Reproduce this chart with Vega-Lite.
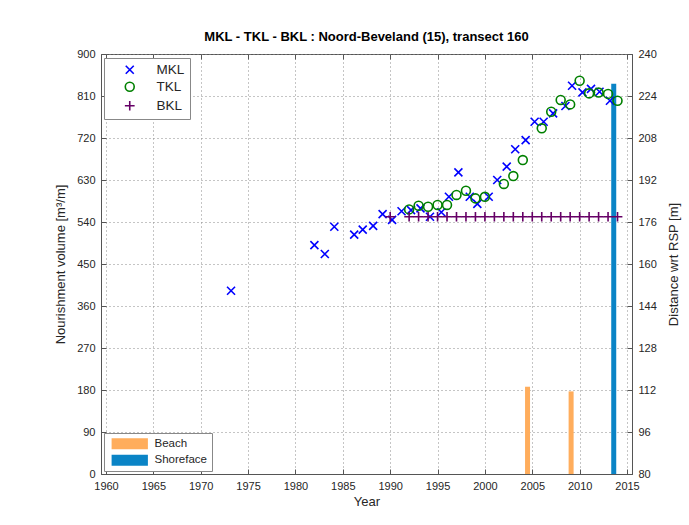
{
  "$schema": "https://vega.github.io/schema/vega-lite/v6.json",
  "width": 531,
  "height": 420,
  "autosize": {"type": "none"},
  "padding": {"left": 101, "top": 54, "right": 57, "bottom": 51},
  "background": "white",
  "title": {"text": "MKL - TKL - BKL : Noord-Beveland (15), transect 160", "fontSize": 13, "fontWeight": "bold", "font": "Liberation Sans", "color": "#000000", "offset": 4, "anchor": "middle"},
  "config": {
    "font": "Liberation Sans",
    "view": {"stroke": "#555555", "strokeWidth": 1},
    "axis": {
      "labelFont": "Liberation Sans", "labelFontSize": 11, "labelColor": "#262626", "labelFlush": false,
      "titleFont": "Liberation Sans", "titleFontSize": 13, "titleFontWeight": "normal", "titleColor": "#262626",
      "domainColor": "#555555", "tickColor": "#555555", "tickSize": -5, "labelPadding": 11,
      "gridColor": "#8a8a8a", "gridDash": [1, 3], "gridOpacity": 1, "gridWidth": 1
    },
    "legend": {"strokeColor": "#888888", "fillColor": "#ffffff", "labelFont": "Liberation Sans", "labelColor": "#262626"}
  },
  "layer": [
    {
      "data": {"values": [
        {"year": 2004.5, "volume": 187, "type": "Beach"},
        {"year": 2009.1, "volume": 177, "type": "Beach"},
        {"year": 2013.6, "volume": 836, "type": "Shoreface"}
      ]},
      "mark": {"type": "bar", "size": 5, "orient": "vertical"},
      "encoding": {
        "x": {"field": "year", "type": "quantitative",
          "scale": {"domain": [1960, 2015], "nice": false, "zero": false},
          "axis": {"orient": "bottom", "values": [1960, 1965, 1970, 1975, 1980, 1985, 1990, 1995, 2000, 2005, 2010, 2015], "format": "d", "title": "Year", "grid": true, "titlePadding": 4}},
        "y": {"field": "volume", "type": "quantitative",
          "scale": {"domain": [0, 900], "nice": false},
          "axis": {"values": [0, 90, 180, 270, 360, 450, 540, 630, 720, 810, 900], "title": "Nourishment volume [m³/m]", "grid": true, "titlePadding": 9}},
        "color": {"field": "type", "type": "nominal",
          "scale": {"domain": ["Beach", "Shoreface"], "range": ["#ffad5c", "#0a84c6"]},
          "legend": {"title": null, "orient": "none", "legendX": 3, "legendY": 379, "padding": 5, "symbolType": "M-3.3,-1L3.3,-1L3.3,1L-3.3,1Z", "symbolSize": 121, "symbolOffset": 15, "labelOffset": 19, "labelFontSize": 11.5, "rowPadding": 3.5, "symbolStrokeWidth": 0}}
      }
    },
    {
      "data": {"values": [
        {"year": 1966.1, "dist": 85.3, "series": "MKL"},
        {"year": 1967.3, "dist": 86.0, "series": "MKL"},
        {"year": 1968.2, "dist": 85.6, "series": "MKL"},
        {"year": 1973.2, "dist": 149.8, "series": "MKL"},
        {"year": 1982.0, "dist": 167.2, "series": "MKL"},
        {"year": 1983.1, "dist": 163.8, "series": "MKL"},
        {"year": 1984.1, "dist": 174.2, "series": "MKL"},
        {"year": 1986.2, "dist": 171.2, "series": "MKL"},
        {"year": 1987.1, "dist": 173.1, "series": "MKL"},
        {"year": 1988.2, "dist": 174.5, "series": "MKL"},
        {"year": 1989.2, "dist": 179.0, "series": "MKL"},
        {"year": 1990.2, "dist": 176.8, "series": "MKL"},
        {"year": 1991.2, "dist": 180.1, "series": "MKL"},
        {"year": 1992.2, "dist": 180.5, "series": "MKL"},
        {"year": 1993.2, "dist": 181.2, "series": "MKL"},
        {"year": 1994.2, "dist": 178.0, "series": "MKL"},
        {"year": 1995.4, "dist": 179.7, "series": "MKL"},
        {"year": 1996.2, "dist": 185.6, "series": "MKL"},
        {"year": 1997.2, "dist": 194.9, "series": "MKL"},
        {"year": 1998.4, "dist": 185.6, "series": "MKL"},
        {"year": 1999.2, "dist": 182.9, "series": "MKL"},
        {"year": 2000.4, "dist": 185.6, "series": "MKL"},
        {"year": 2001.3, "dist": 192.0, "series": "MKL"},
        {"year": 2002.3, "dist": 197.1, "series": "MKL"},
        {"year": 2003.2, "dist": 203.7, "series": "MKL"},
        {"year": 2004.3, "dist": 207.2, "series": "MKL"},
        {"year": 2005.25, "dist": 214.2, "series": "MKL"},
        {"year": 2006.2, "dist": 214.2, "series": "MKL"},
        {"year": 2007.2, "dist": 217.4, "series": "MKL"},
        {"year": 2008.5, "dist": 220.2, "series": "MKL"},
        {"year": 2009.2, "dist": 227.9, "series": "MKL"},
        {"year": 2010.3, "dist": 225.4, "series": "MKL"},
        {"year": 2011.2, "dist": 226.7, "series": "MKL"},
        {"year": 2012.1, "dist": 225.6, "series": "MKL"},
        {"year": 2013.2, "dist": 222.2, "series": "MKL"},
        {"year": 1992, "dist": 180.8, "series": "TKL"},
        {"year": 1993, "dist": 182.2, "series": "TKL"},
        {"year": 1994, "dist": 181.8, "series": "TKL"},
        {"year": 1995, "dist": 182.5, "series": "TKL"},
        {"year": 1996, "dist": 182.5, "series": "TKL"},
        {"year": 1997, "dist": 186.3, "series": "TKL"},
        {"year": 1998, "dist": 187.9, "series": "TKL"},
        {"year": 1999, "dist": 185.0, "series": "TKL"},
        {"year": 2000, "dist": 185.6, "series": "TKL"},
        {"year": 2002, "dist": 190.5, "series": "TKL"},
        {"year": 2003, "dist": 193.5, "series": "TKL"},
        {"year": 2004, "dist": 199.6, "series": "TKL"},
        {"year": 2006, "dist": 211.7, "series": "TKL"},
        {"year": 2007, "dist": 218.0, "series": "TKL"},
        {"year": 2008, "dist": 222.5, "series": "TKL"},
        {"year": 2009, "dist": 220.8, "series": "TKL"},
        {"year": 2010, "dist": 229.8, "series": "TKL"},
        {"year": 2011, "dist": 225.0, "series": "TKL"},
        {"year": 2012, "dist": 225.3, "series": "TKL"},
        {"year": 2013, "dist": 224.8, "series": "TKL"},
        {"year": 2014, "dist": 222.2, "series": "TKL"},
        {"year": 1990, "dist": 178, "series": "BKL"},
        {"year": 1992, "dist": 178, "series": "BKL"},
        {"year": 1993, "dist": 178, "series": "BKL"},
        {"year": 1994, "dist": 178, "series": "BKL"},
        {"year": 1995, "dist": 178, "series": "BKL"},
        {"year": 1996, "dist": 178, "series": "BKL"},
        {"year": 1997, "dist": 178, "series": "BKL"},
        {"year": 1998, "dist": 178, "series": "BKL"},
        {"year": 1999, "dist": 178, "series": "BKL"},
        {"year": 2000, "dist": 178, "series": "BKL"},
        {"year": 2001, "dist": 178, "series": "BKL"},
        {"year": 2002, "dist": 178, "series": "BKL"},
        {"year": 2003, "dist": 178, "series": "BKL"},
        {"year": 2004, "dist": 178, "series": "BKL"},
        {"year": 2005, "dist": 178, "series": "BKL"},
        {"year": 2006, "dist": 178, "series": "BKL"},
        {"year": 2007, "dist": 178, "series": "BKL"},
        {"year": 2008, "dist": 178, "series": "BKL"},
        {"year": 2009, "dist": 178, "series": "BKL"},
        {"year": 2010, "dist": 178, "series": "BKL"},
        {"year": 2011, "dist": 178, "series": "BKL"},
        {"year": 2012, "dist": 178, "series": "BKL"},
        {"year": 2013, "dist": 178, "series": "BKL"},
        {"year": 2014, "dist": 178, "series": "BKL"}
      ]},
      "mark": {"type": "point", "filled": false, "strokeWidth": 1.6, "opacity": 1},
      "encoding": {
        "x": {"field": "year", "type": "quantitative",
          "axis": {"orient": "top", "labels": false, "title": null, "grid": false, "domain": false, "values": [1960, 1965, 1970, 1975, 1980, 1985, 1990, 1995, 2000, 2005, 2010, 2015]}},
        "y": {"field": "dist", "type": "quantitative",
          "scale": {"domain": [80, 240], "nice": false, "zero": false},
          "axis": {"orient": "right", "values": [80, 96, 112, 128, 144, 160, 176, 192, 208, 224, 240], "title": "Distance wrt RSP [m]", "grid": false, "titleAngle": 270, "titleBaseline": "top", "titlePadding": 11}},
        "shape": {"field": "series", "type": "nominal",
          "scale": {"domain": ["MKL", "TKL", "BKL"], "range": ["M-1,-1L1,1M-1,1L1,-1", "circle", "M-1,0L1,0M0,-1L0,1"]},
          "legend": {"title": null, "orient": "none", "legendX": 3, "legendY": 4, "padding": 5, "symbolOffset": 14, "labelOffset": 20, "labelFontSize": 13.5, "rowPadding": 2, "symbolStrokeWidth": 1.6}},
        "color": {"field": "series", "type": "nominal",
          "scale": {"domain": ["MKL", "TKL", "BKL"], "range": ["#0000ff", "#008000", "#660066"]},
          "legend": {"title": null, "orient": "none", "legendX": 3, "legendY": 4, "padding": 5, "symbolOffset": 14, "labelOffset": 20, "labelFontSize": 13.5, "rowPadding": 2, "symbolStrokeWidth": 1.6}},
        "size": {"field": "series", "type": "nominal",
          "scale": {"domain": ["MKL", "TKL", "BKL"], "range": [64, 95, 72]},
          "legend": {"title": null, "orient": "none", "legendX": 3, "legendY": 4, "padding": 5, "symbolOffset": 14, "labelOffset": 20, "labelFontSize": 13.5, "rowPadding": 2, "symbolStrokeWidth": 1.6}}
      }
    }
  ],
  "resolve": {"scale": {"y": "independent", "color": "independent", "shape": "independent", "size": "independent"}, "axis": {"x": "independent"}}
}
